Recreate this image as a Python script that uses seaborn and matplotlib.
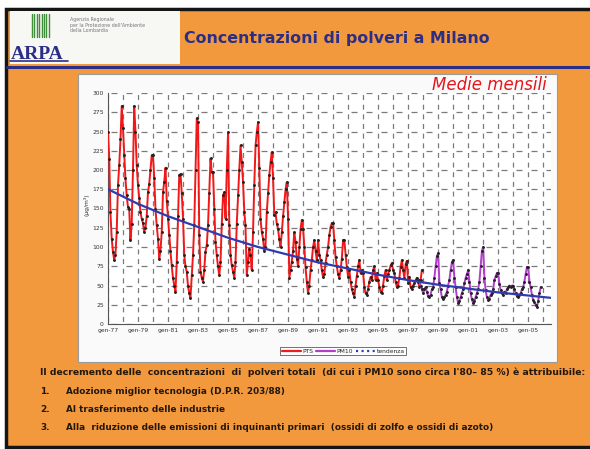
import numpy as np
import pandas as pd
import matplotlib
matplotlib.use('Agg')
import matplotlib.pyplot as plt
import seaborn as sns
from matplotlib.lines import Line2D
from matplotlib.patches import Rectangle

# dati (medie mensili, ug/m3)
pts_inizio = '1977-01-01'
pts = [
    250, 214, 145, 111, 94, 83, 90, 120, 180, 206, 240, 283,   # 1977
    254, 220, 189, 167, 152, 150, 109, 130, 200, 283, 250, 206,  # 1978
    180, 163, 145, 137, 131, 120, 125, 140, 171, 182, 200, 219,  # 1979
    219, 189, 150, 128, 111, 85, 95, 120, 171, 185, 203, 160,    # 1980
    137, 115, 95, 76, 60, 50, 42, 80, 140, 193, 195, 170,        # 1981
    137, 89, 75, 68, 50, 40, 34, 63, 90, 128, 200, 267,          # 1982
    262, 115, 68, 60, 55, 70, 94, 102, 128, 170, 215, 197,       # 1983
    197, 150, 107, 89, 75, 63, 80, 130, 167, 171, 137, 200,      # 1984
    249, 128, 90, 76, 68, 60, 80, 130, 167, 200, 232, 210,       # 1985
    184, 145, 128, 63, 80, 98, 89, 70, 120, 180, 232, 249,       # 1986
    262, 202, 137, 120, 111, 95, 100, 145, 170, 193, 210, 223,   # 1987
    189, 141, 145, 130, 124, 110, 100, 119, 140, 158, 175, 184,  # 1988
    137, 60, 70, 81, 95, 119, 107, 85, 75, 100, 124, 135,        # 1989
    124, 100, 74, 55, 40, 50, 70, 83, 100, 109, 95, 83,          # 1990
    109, 90, 83, 70, 61, 65, 79, 90, 100, 115, 126, 131,         # 1991
    131, 109, 87, 75, 65, 60, 70, 85, 109, 109, 90, 74,          # 1992
    61, 70, 55, 45, 40, 35, 50, 62, 75, 83, 66, 70,              # 1993
    66, 48, 40, 38, 45, 55, 61, 57, 70, 75, 57, 66,              # 1994
    57, 48, 42, 40, 50, 62, 70, 57, 65, 70, 76, 79,              # 1995
    70, 66, 55, 48, 50, 60, 74, 83, 70, 60, 78, 82,              # 1996
    53, 61, 48, 45, 50, 53, 57, 60, 55, 48, 57, 70,              # 1997
]

pm10_inizio = '1997-10-01'
pm10 = [
    57, 50, 45,                                                  # 1997
    40, 45, 48, 42, 36, 35, 38, 45, 48, 60, 75, 88,              # 1998
    92, 53, 45, 35, 33, 35, 38, 42, 50, 57, 70, 80,              # 1999
    83, 60, 48, 35, 27, 30, 35, 40, 45, 53, 60, 65,              # 2000
    70, 55, 40, 32, 27, 30, 35, 40, 45, 55, 75, 95,              # 2001
    100, 60, 44, 35, 31, 33, 38, 40, 45, 57, 62, 66,             # 2002
    66, 52, 44, 40, 38, 42, 40, 45, 48, 50, 48, 50,              # 2003
    50, 45, 40, 36, 35, 38, 40, 45, 48, 55, 65, 74,              # 2004
    74, 55, 48, 38, 31, 28, 25, 22, 30, 40, 48,                  # 2005
]

tend_date = ['1977-01-01', '1979-01-01', '1981-01-01', '1983-01-01', '1985-01-01',
             '1987-01-01', '1989-01-01', '1991-01-01', '1993-01-01', '1995-01-01',
             '1997-01-01', '1999-01-01', '2001-01-01', '2003-01-01', '2005-01-01',
             '2006-07-01']
tendenza = [175, 156, 140, 126, 112, 100, 90, 80, 72, 64, 57, 51, 46, 41, 37, 34]

tick_anni = list(range(1977, 2006, 2))
tick_etichette = ['gen-%02d' % (a % 100) for a in tick_anni]

W, H = 590, 449
arancio = '#F2993D'
blu_scuro = '#2B2E86'


def fx(x):
    return x / W


def fy(y):
    return 1 - y / H


plt.rcParams['lines.scale_dashes'] = False
sns.set_style('white')
plt.rcParams['font.family'] = ['DejaVu Sans']

fig = plt.figure(figsize=(5.9, 4.49), dpi=100, facecolor='white')

# cornice della slide
fig.add_artist(Rectangle((fx(6), fy(447)), fx(590 - 6) + 0.01, fy(9) - fy(447),
                         transform=fig.transFigure, facecolor=arancio,
                         edgecolor='#151515', lw=2.5, zorder=0))
fig.add_artist(Line2D([fx(7), 1], [fy(67), fy(67)], transform=fig.transFigure,
                      color=blu_scuro, lw=2.2))

# logo ARPA
fig.add_artist(Rectangle((fx(10), fy(64)), fx(170), fy(11) - fy(64),
                         transform=fig.transFigure, facecolor='#F7F7F4',
                         edgecolor='none', zorder=1))
for i in range(8):
    fig.add_artist(Line2D([fx(32 + i * 2.4)] * 2, [fy(14), fy(37)],
                          transform=fig.transFigure, color='#3E8E3A', lw=1.0, zorder=2))
fig.text(fx(11), fy(59), 'ARPA', fontsize=14, fontweight='bold',
         family='Liberation Serif', color=blu_scuro, va='baseline', zorder=3)
fig.add_artist(Line2D([fx(10), fx(68)], [fy(61), fy(61)], transform=fig.transFigure,
                      color=blu_scuro, lw=1.2, zorder=3))
for i, riga in enumerate(['Agenzia Regionale', "per la Protezione dell'Ambiente",
                          'della Lombardia']):
    fig.text(fx(70), fy(19 + i * 6), riga, fontsize=3.4, color='#777777',
             va='center', zorder=3)

fig.text(fx(337), fy(38), 'Concentrazioni di polveri a Milano', fontsize=11.4,
         fontweight='bold', color=blu_scuro, ha='center', va='center')

# pannello del grafico
fig.add_artist(Rectangle((fx(78), fy(362)), fx(557 - 78), fy(74) - fy(362),
                         transform=fig.transFigure, facecolor='#FAFAFA',
                         edgecolor='#9A9A9A', lw=0.8, zorder=1))
fig.text(fx(547), fy(85), 'Medie mensili', fontsize=12, style='italic',
         color='#E3161C', ha='right', va='center', zorder=3)

ax = fig.add_axes([fx(108), fy(324), fx(551 - 108), fy(93) - fy(324)])
ax.set_zorder(5)
ax.set_facecolor('white')

df_pts = pd.DataFrame({'data': pd.date_range(pts_inizio, periods=len(pts), freq='MS'),
                       'valore': pts})
df_pm = pd.DataFrame({'data': pd.date_range(pm10_inizio, periods=len(pm10), freq='MS'),
                      'valore': pm10})
df_tend = pd.DataFrame({'data': pd.to_datetime(tend_date), 'valore': tendenza})

sns.lineplot(data=df_pts, x='data', y='valore', ax=ax, color='#F01818', lw=1.4,
             marker='o', markersize=1.3, markerfacecolor='#222222',
             markeredgecolor='#222222', zorder=3)
sns.lineplot(data=df_pm, x='data', y='valore', ax=ax, color='#B23FCB', lw=1.4,
             marker='o', markersize=1.3, markerfacecolor='#222222',
             markeredgecolor='#222222', zorder=3)
sns.lineplot(data=df_tend, x='data', y='valore', ax=ax, color='#2E3BB0', lw=1.6,
             zorder=4)

ax.set_xlim(pd.Timestamp('1977-01-01'), pd.Timestamp('2006-07-10'))
ax.set_ylim(0, 300)
ax.set_yticks(range(0, 301, 25))
ax.set_xticks(pd.to_datetime(['%d-01-01' % a for a in tick_anni]))
ax.set_xticklabels(tick_etichette)
ax.set_xticks(pd.to_datetime(['%d-01-01' % a for a in range(1978, 2007, 2)]), minor=True)
ax.tick_params(axis='both', which='both', labelsize=4.3, colors='#333333',
               length=3, width=0.6, direction='inout', pad=1.5)
ax.set_xlabel('')
ax.set_ylabel('')

# griglia tratteggiata a crocette
px = 0.72
ax.grid(axis='y', which='major', color='#7A7A7A', lw=0.9,
        linestyle=(15 * px - 3 * px, (6 * px, 9 * px)))
ax.grid(axis='x', which='both', color='#7A7A7A', lw=0.9,
        linestyle=(9.65 * px - 2.5 * px, (5 * px, 4.65 * px)))
for s in ['top', 'right']:
    ax.spines[s].set_visible(False)
for s in ['left', 'bottom']:
    ax.spines[s].set_color('#555555')
    ax.spines[s].set_linewidth(0.8)

fig.text(fx(86), fy(205), '(µg/m³)', fontsize=4.3, rotation=90,
         color='#333333', ha='center', va='center', zorder=3)

maniglie = [Line2D([], [], color='#EE1C1C', lw=1.6),
            Line2D([], [], color='#B23FCB', lw=1.6),
            Line2D([], [], color='#2E3BB0', lw=1.6, linestyle=(0, (1.5, 2.5)))]
leg = ax.legend(maniglie, ['PTS', 'PM10', 'tendenza'], loc='center',
                bbox_to_anchor=(fx(343), fy(351)), bbox_transform=fig.transFigure,
                ncol=3, fontsize=4.3, frameon=True, fancybox=False,
                edgecolor='#333333', borderpad=0.3, handlelength=3.2,
                columnspacing=0.4, handletextpad=0.3)
leg.get_frame().set_linewidth(0.6)

# testo sotto il grafico
col_testo = '#24170C'
fig.text(fx(40), fy(372),
         "Il decremento delle  concentrazioni  di  polveri totali  "
         "(di cui i PM10 sono circa l'80\u2013 85 %) è attribuibile:",
         fontsize=6.65, fontweight='bold', color=col_testo, va='center')
voci = ['Adozione miglior tecnologia (D.P.R. 203/88)',
        'Al trasferimento delle industrie',
        'Alla  riduzione delle emissioni di inquinanti primari  '
        '(ossidi di zolfo e ossidi di azoto)']
for i, v in enumerate(voci):
    yy = 391 + i * 18.5
    fig.text(fx(40), fy(yy), '%d.' % (i + 1), fontsize=6.4, fontweight='bold',
             color=col_testo, va='center')
    fig.text(fx(66), fy(yy), v, fontsize=6.4, fontweight='bold',
             color=col_testo, va='center')

fig.savefig('out.png', dpi=100, facecolor=fig.get_facecolor())
